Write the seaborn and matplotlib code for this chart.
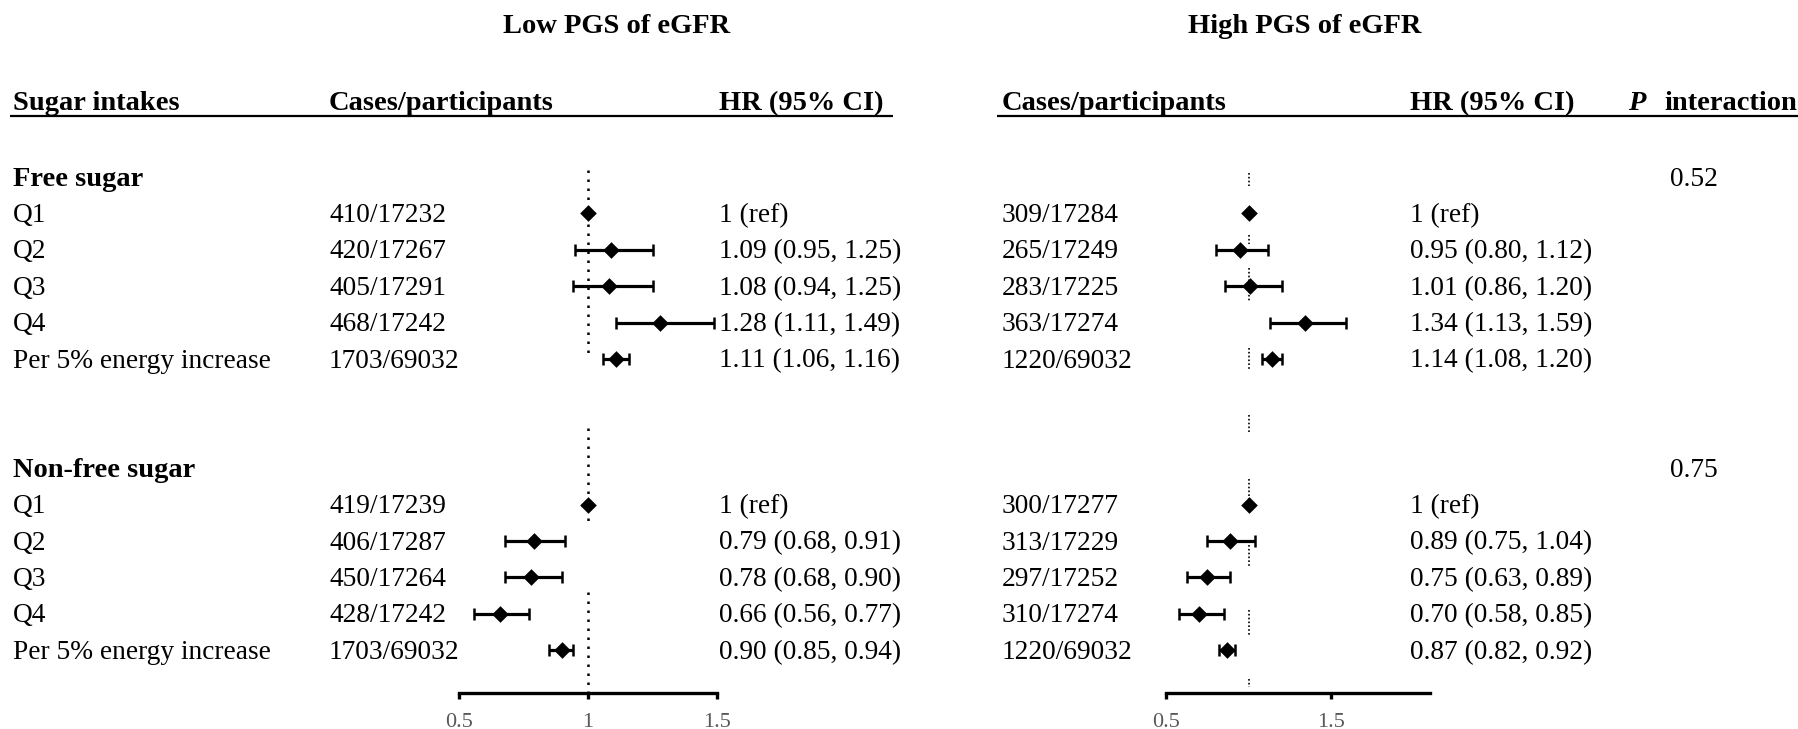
import numpy as np
import pandas as pd
import matplotlib
matplotlib.use("Agg")
import matplotlib.pyplot as plt
import seaborn as sns

nan = np.nan

# ---------------- data ----------------
row_labels = ["Free sugar", "Q1", "Q2", "Q3", "Q4", "Per 5% energy increase", "", "",
              "Non-free sugar", "Q1", "Q2", "Q3", "Q4", "Per 5% energy increase"]
row_is_group = [True, False, False, False, False, False, False, False,
                True, False, False, False, False, False]

low_cases = ["", "410/17232", "420/17267", "405/17291", "468/17242", "1703/69032", "", "",
             "", "419/17239", "406/17287", "450/17264", "428/17242", "1703/69032"]
low_hr = [nan, 1.00, 1.09, 1.08, 1.28, 1.11, nan, nan, nan, 1.00, 0.79, 0.78, 0.66, 0.90]
low_lo = [nan, nan, 0.95, 0.94, 1.11, 1.06, nan, nan, nan, nan, 0.68, 0.68, 0.56, 0.85]
low_hi = [nan, nan, 1.25, 1.25, 1.49, 1.16, nan, nan, nan, nan, 0.91, 0.90, 0.77, 0.94]

high_cases = ["", "309/17284", "265/17249", "283/17225", "363/17274", "1220/69032", "", "",
              "", "300/17277", "313/17229", "297/17252", "310/17274", "1220/69032"]
high_hr = [nan, 1.00, 0.95, 1.01, 1.34, 1.14, nan, nan, nan, 1.00, 0.89, 0.75, 0.70, 0.87]
high_lo = [nan, nan, 0.80, 0.86, 1.13, 1.08, nan, nan, nan, nan, 0.75, 0.63, 0.58, 0.82]
high_hi = [nan, nan, 1.12, 1.20, 1.59, 1.20, nan, nan, nan, nan, 1.04, 0.89, 0.85, 0.92]

p_interaction = ["0.52", "", "", "", "", "", "", "", "0.75", "", "", "", "", ""]

panel_titles = ["Low PGS of eGFR", "High PGS of eGFR"]
low_ticks = [0.5, 1.0, 1.5]
low_ticklabels = ["0.5", "1", "1.5"]
high_ticks = [0.5, 1.5]
high_ticklabels = ["0.5", "1.5"]


def hr_text(hr, lo, hi):
    if np.isnan(hr):
        return ""
    if np.isnan(lo):
        return "1 (ref)"
    return f"{hr:.2f} ({lo:.2f}, {hi:.2f})"


# ---------------- style ----------------
sns.set_theme(style="white")
plt.rcParams["font.family"] = ["Liberation Serif", "DejaVu Serif"]
plt.rcParams["text.color"] = "black"

W, H = 1798, 729
fig = plt.figure(figsize=(W / 100, H / 100), dpi=100)
fig.patch.set_facecolor("white")

FSB = 20.5   # bold headers
FS = 19.7    # body text
Y0, DY = 177.0, 36.4      # pixel centre of row 0 and row spacing
AXIS_Y = 693.0            # pixel y of the x axis line
TOP_Y = 150.0


def row_y(i):
    return Y0 + DY * i


# overlay axes in pixel coordinates for the table text
ax0 = fig.add_axes([0, 0, 1, 1])
ax0.set_xlim(0, W)
ax0.set_ylim(H, 0)
ax0.axis("off")
ax0.patch.set_alpha(0)

# titles
ax0.text(617, 33, panel_titles[0], fontsize=FSB, fontweight="bold", ha="center", va="baseline")
ax0.text(1305, 33, panel_titles[1], fontsize=FSB, fontweight="bold", ha="center", va="baseline")

# headers
HB = 110
X_LAB, X_LC, X_LHR, X_HC, X_HHR, X_P = 13, 329, 719, 1002, 1410, 1694
ax0.text(X_LAB, HB, "Sugar intakes", fontsize=FSB, fontweight="bold", va="baseline")
ax0.text(X_LC, HB, "Cases/participants", fontsize=FSB, fontweight="bold", va="baseline")
ax0.text(X_LHR, HB, "HR (95% CI)", fontsize=FSB, fontweight="bold", va="baseline")
ax0.text(X_HC, HB, "Cases/participants", fontsize=FSB, fontweight="bold", va="baseline")
ax0.text(X_HHR, HB, "HR (95% CI)", fontsize=FSB, fontweight="bold", va="baseline")
ax0.text(1628, HB, "P", fontsize=FSB, fontweight="bold", fontstyle="italic", va="baseline")
ax0.text(1797, HB, "interaction", fontsize=FSB, fontweight="bold", va="baseline", ha="right")
ax0.plot([10, 893], [116, 116], color="black", lw=1.6, solid_capstyle="butt")
ax0.plot([997, W], [116, 116], color="black", lw=1.6, solid_capstyle="butt")

# table rows
for i, lab in enumerate(row_labels):
    yb = row_y(i) + 8.5
    if lab:
        if row_is_group[i]:
            ax0.text(X_LAB, yb, lab, fontsize=FSB, va="baseline", fontweight="bold")
        else:
            ax0.text(X_LAB, yb, lab, fontsize=FS, va="baseline")
    if low_cases[i]:
        ax0.text(X_LC, yb, low_cases[i], fontsize=FS, va="baseline")
    t = hr_text(low_hr[i], low_lo[i], low_hi[i])
    if t:
        ax0.text(X_LHR, yb, t, fontsize=FS, va="baseline")
    if high_cases[i]:
        ax0.text(X_HC, yb, high_cases[i], fontsize=FS, va="baseline")
    t = hr_text(high_hr[i], high_lo[i], high_hi[i])
    if t:
        ax0.text(X_HHR, yb, t, fontsize=FS, va="baseline")
    if p_interaction[i]:
        ax0.text(X_P, yb, p_interaction[i], fontsize=FS, va="baseline", ha="center")


# ---------------- forest panels ----------------
n = len(row_labels)
r_bottom = (AXIS_Y - Y0) / DY
r_top = (TOP_Y - Y0) / DY


def forest(px0, px1, xlim, hr, lo, hi, ticks, ticklabels, segments, dot_style, dot_lw):
    ax = fig.add_axes([px0 / W, 1 - AXIS_Y / H, (px1 - px0) / W, (AXIS_Y - TOP_Y) / H])
    ax.patch.set_alpha(0)
    df = pd.DataFrame({"row": np.arange(n), "hr": hr, "lo": lo, "hi": hi})
    pts = df.dropna(subset=["hr"])
    ci = pts.dropna(subset=["lo"])
    # reference line at HR = 1 (broken dotted segments as in the original)
    for a, b in segments:
        ax.plot([1, 1], [a, b], color="black", lw=dot_lw, linestyle=dot_style,
                zorder=1, clip_on=False)
    ax.errorbar(ci["hr"], ci["row"], xerr=[ci["hr"] - ci["lo"], ci["hi"] - ci["hr"]],
                fmt="none", ecolor="black", elinewidth=2.3, capsize=4.3, capthick=1.8,
                zorder=2, clip_on=False)
    sns.scatterplot(data=pts, x="hr", y="row", marker="D", s=72, color="black",
                    edgecolor="black", linewidth=0, ax=ax, legend=False, zorder=3,
                    clip_on=False)
    ax.set_xlim(*xlim)
    ax.set_ylim(r_bottom, r_top)
    ax.set_xlabel("")
    ax.set_ylabel("")
    ax.set_yticks([])
    ax.set_xticks(ticks)
    ax.set_xticklabels(ticklabels)
    for s in ["top", "left", "right"]:
        ax.spines[s].set_visible(False)
    ax.spines["bottom"].set_linewidth(2.4)
    ax.spines["bottom"].set_color("black")
    ax.tick_params(axis="x", direction="out", length=4.5, width=2.4, color="black",
                   pad=10, labelsize=16, labelcolor="#595959", bottom=True)
    ax.grid(False)
    return ax


low_segments = [(-0.2, 5.0), (6.9, 9.45), (11.4, r_bottom)]
high_segments = [(-0.1, 0.25), (1.6, 1.85), (2.5, 3.4), (4.7, 5.3), (6.55, 7.05),
                 (8.3, 8.85), (10.1, 10.7), (11.9, 12.6), (13.8, 14.0)]

forest(459, 717, (0.5, 1.5), low_hr, low_lo, low_hi, low_ticks, low_ticklabels,
       low_segments, (0, (1, 2.6)), 1.8)
forest(1166, 1430, (0.5, 2.1), high_hr, high_lo, high_hi, high_ticks, high_ticklabels,
       high_segments, (0, (1, 1.3)), 1.2)

fig.savefig("out.png", dpi=100, facecolor="white")
